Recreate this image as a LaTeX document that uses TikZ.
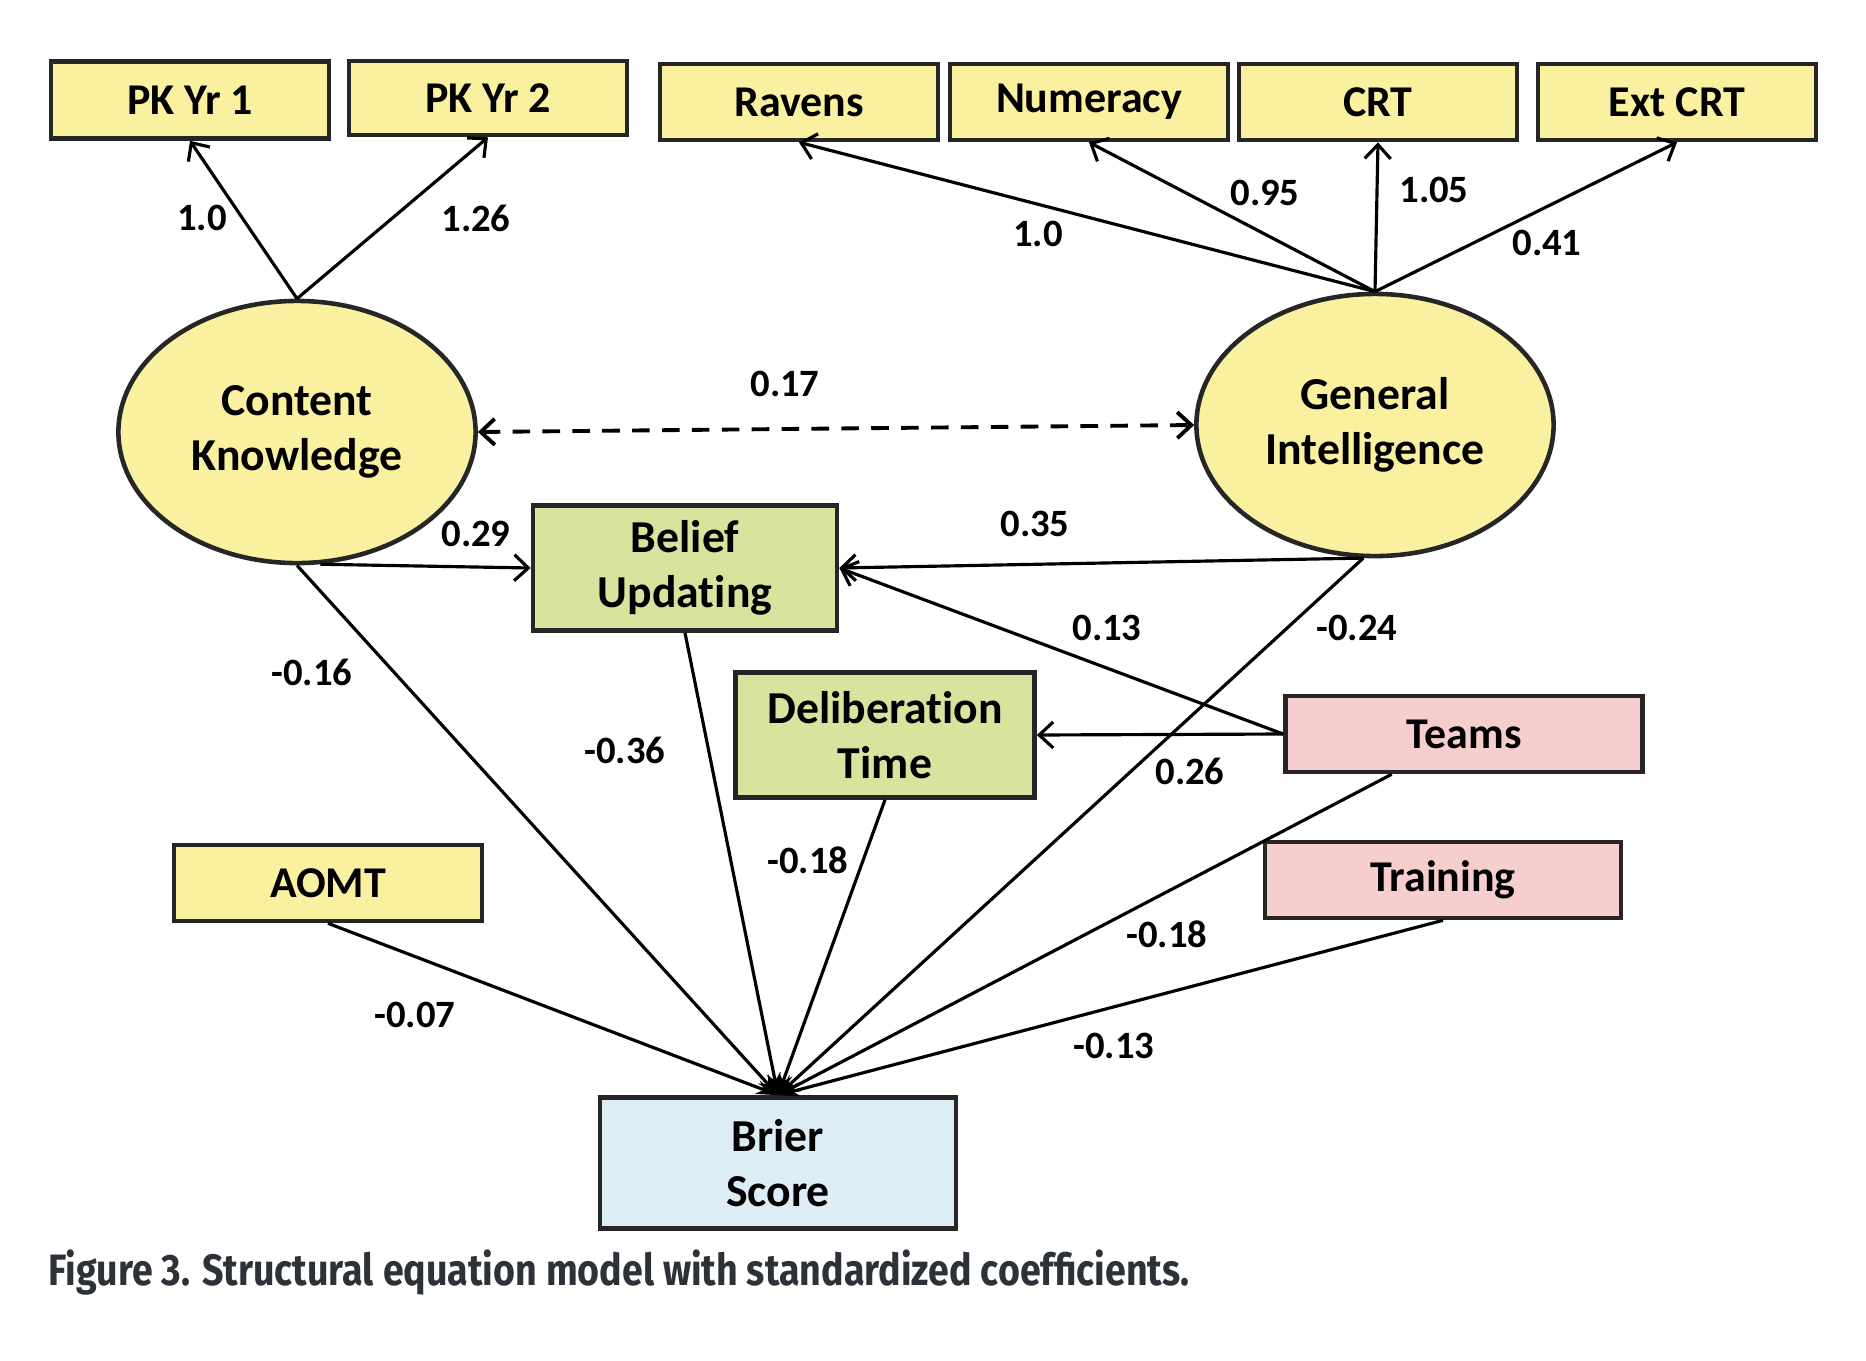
\documentclass[tikz,border=0pt]{standalone}
\usepackage{fontspec}
\setmainfont[Ligatures=NoCommon]{Carlito}
\newfontfamily\capfont{Fira Sans}
\usepackage{tikz}
\usetikzlibrary{shapes.geometric, arrows.meta, positioning, calc}
\usepackage{xcolor}
\definecolor{myyellow}{RGB}{249, 241, 160}
\definecolor{mygreen}{RGB}{214, 228, 158}
\definecolor{mypink}{RGB}{247, 206, 206}
\definecolor{myblue}{RGB}{220, 237, 246}
\definecolor{mycap}{RGB}{45, 49, 56}

\tikzset{
    obsbox/.style={draw=black!85, line width=1.3pt, minimum width=2.78cm, minimum height=0.76cm, font=\fontsize{12.5}{15}\selectfont\bfseries, align=center, inner sep=1pt},
    twoline/.style={minimum height=1.25cm, font=\fontsize{13}{15.5}\selectfont\bfseries},
    latent/.style={ellipse, draw=black!85, line width=1.3pt, fill=myyellow, minimum width=3.57cm, minimum height=2.62cm, font=\fontsize{13}{15.5}\selectfont\bfseries, align=center},
    coef/.style={font=\fontsize{11}{13}\selectfont\bfseries, inner sep=1pt},
    load/.style={line width=0.9pt, -{Straight Barb[length=1.4mm, width=2.6mm]}},
    pathto/.style={line width=0.9pt, -{Stealth[length=2.2mm, width=1.4mm]}}
}

\begin{document}
\begin{tikzpicture}[x=0.01cm, y=-0.01cm]
        \useasboundingbox (0,0) rectangle (1866,1360);

        % --- Indicators on top ---
        \node[obsbox, fill=myyellow, minimum height=0.77cm] (pk1) at (190,100) {PK Yr 1};
        \node[obsbox, fill=myyellow, minimum height=0.74cm] (pk2) at (488,98) {PK Yr 2};
        \node[obsbox, fill=myyellow] (ravens) at (799,102) {Ravens};
        \node[obsbox, fill=myyellow] (numeracy) at (1089,102) {Numeracy};
        \node[obsbox, fill=myyellow] (crt) at (1378,102) {CRT};
        \node[obsbox, fill=myyellow] (extcrt) at (1677,102) {Ext CRT};

        % --- Latent variables ---
        \node[latent] (ck) at (297,432) {Content\\Knowledge};
        \node[latent] (gi) at (1375,425) {General\\Intelligence};

        % --- Mediators, covariates, outcome ---
        \node[obsbox, twoline, fill=mygreen, minimum width=3.04cm] (bu) at (685,568) {Belief\\Updating};
        \node[obsbox, twoline, fill=mygreen, minimum width=2.99cm] (dt) at (885,735) {Deliberation\\Time};
        \node[obsbox, fill=mypink, minimum width=3.57cm] (teams) at (1464,734) {Teams};
        \node[obsbox, fill=mypink, minimum width=3.56cm] (training) at (1443,880) {Training};
        \node[obsbox, fill=myyellow, minimum width=3.08cm] (aomt) at (328,883) {AOMT};
        \node[obsbox, twoline, fill=myblue, minimum width=3.56cm, minimum height=1.31cm] (brier) at (778,1163) {Brier\\Score};

        % Loadings
        \draw[load] (ck.north) -- (pk1.south);
        \draw[load] (ck.north) -- (pk2.south);
        \draw[load] (gi.north) -- (ravens.south);
        \draw[load] (gi.north) -- (numeracy.south);
        \draw[load] (gi.north) -- (crt.south);
        \draw[load] (gi.north) -- (extcrt.south);
        \node[coef] (l1) at (202,218) {1.0};
        \node[coef] (l2) at (476,218) {1.26};
        \node[coef] (l3) at (1038,234) {1.0};
        \node[coef] (l4) at (1265,193) {0.95};
        \node[coef] (l5) at (1434,190) {1.05};
        \node[coef] (l6) at (1547,243) {0.41};

        % Covariance
        \draw[load, <->, >={Straight Barb[length=1.4mm, width=2.6mm]}, line width=1.1pt, dash pattern=on 5pt off 3.5pt] (ck.east) -- (gi.west);
        \node[coef] (c1) at (785,384) {0.17};

        % Paths to mediators
        \draw[load] (ck.-80) -- (bu.west);
        \draw[load] (gi.-95) -- (bu.east);
        \draw[load] (teams.west) -- (bu.east);
        \draw[load] (teams.west) -- (dt.east);
        \node[coef] (p1) at (476,534) {0.29};
        \node[coef] (p2) at (1035,524) {0.35};
        \node[coef] (p3) at (1107,628) {0.13};
        \node[coef] (p4) at (1190,771) {0.26};

        % Paths to Brier score
        \draw[pathto] (ck.south) -- (brier.north);
        \draw[pathto] (bu.south) -- (brier.north);
        \draw[pathto] (dt.south) -- (brier.north);
        \draw[pathto] (gi.-95) -- (brier.north);
        \draw[pathto] ($(teams.south west)!0.3!(teams.south east)$) -- (brier.north);
        \draw[pathto] (training.south) -- (brier.north);
        \draw[pathto] (aomt.south) -- (brier.north);
        \node[coef] (b1) at (312,672) {-0.16};
        \node[coef] (b2) at (625,750) {-0.36};
        \node[coef] (b3) at (808,860) {-0.18};
        \node[coef] (b4) at (1357,628) {-0.24};
        \node[coef] (b5) at (1167,934) {-0.18};
        \node[coef] (b6) at (415,1015) {-0.07};
        \node[coef] (b7) at (1114,1046) {-0.13};

        % --- Caption ---
        \node[anchor=west, text=mycap, font=\capfont\fontsize{12.5}{15}\selectfont\bfseries, inner sep=0pt] (caption) at (48,1273) {\scalebox{0.855}[1]{Figure 3. Structural equation model with standardized coefficients.}};
\end{tikzpicture}
\end{document}
